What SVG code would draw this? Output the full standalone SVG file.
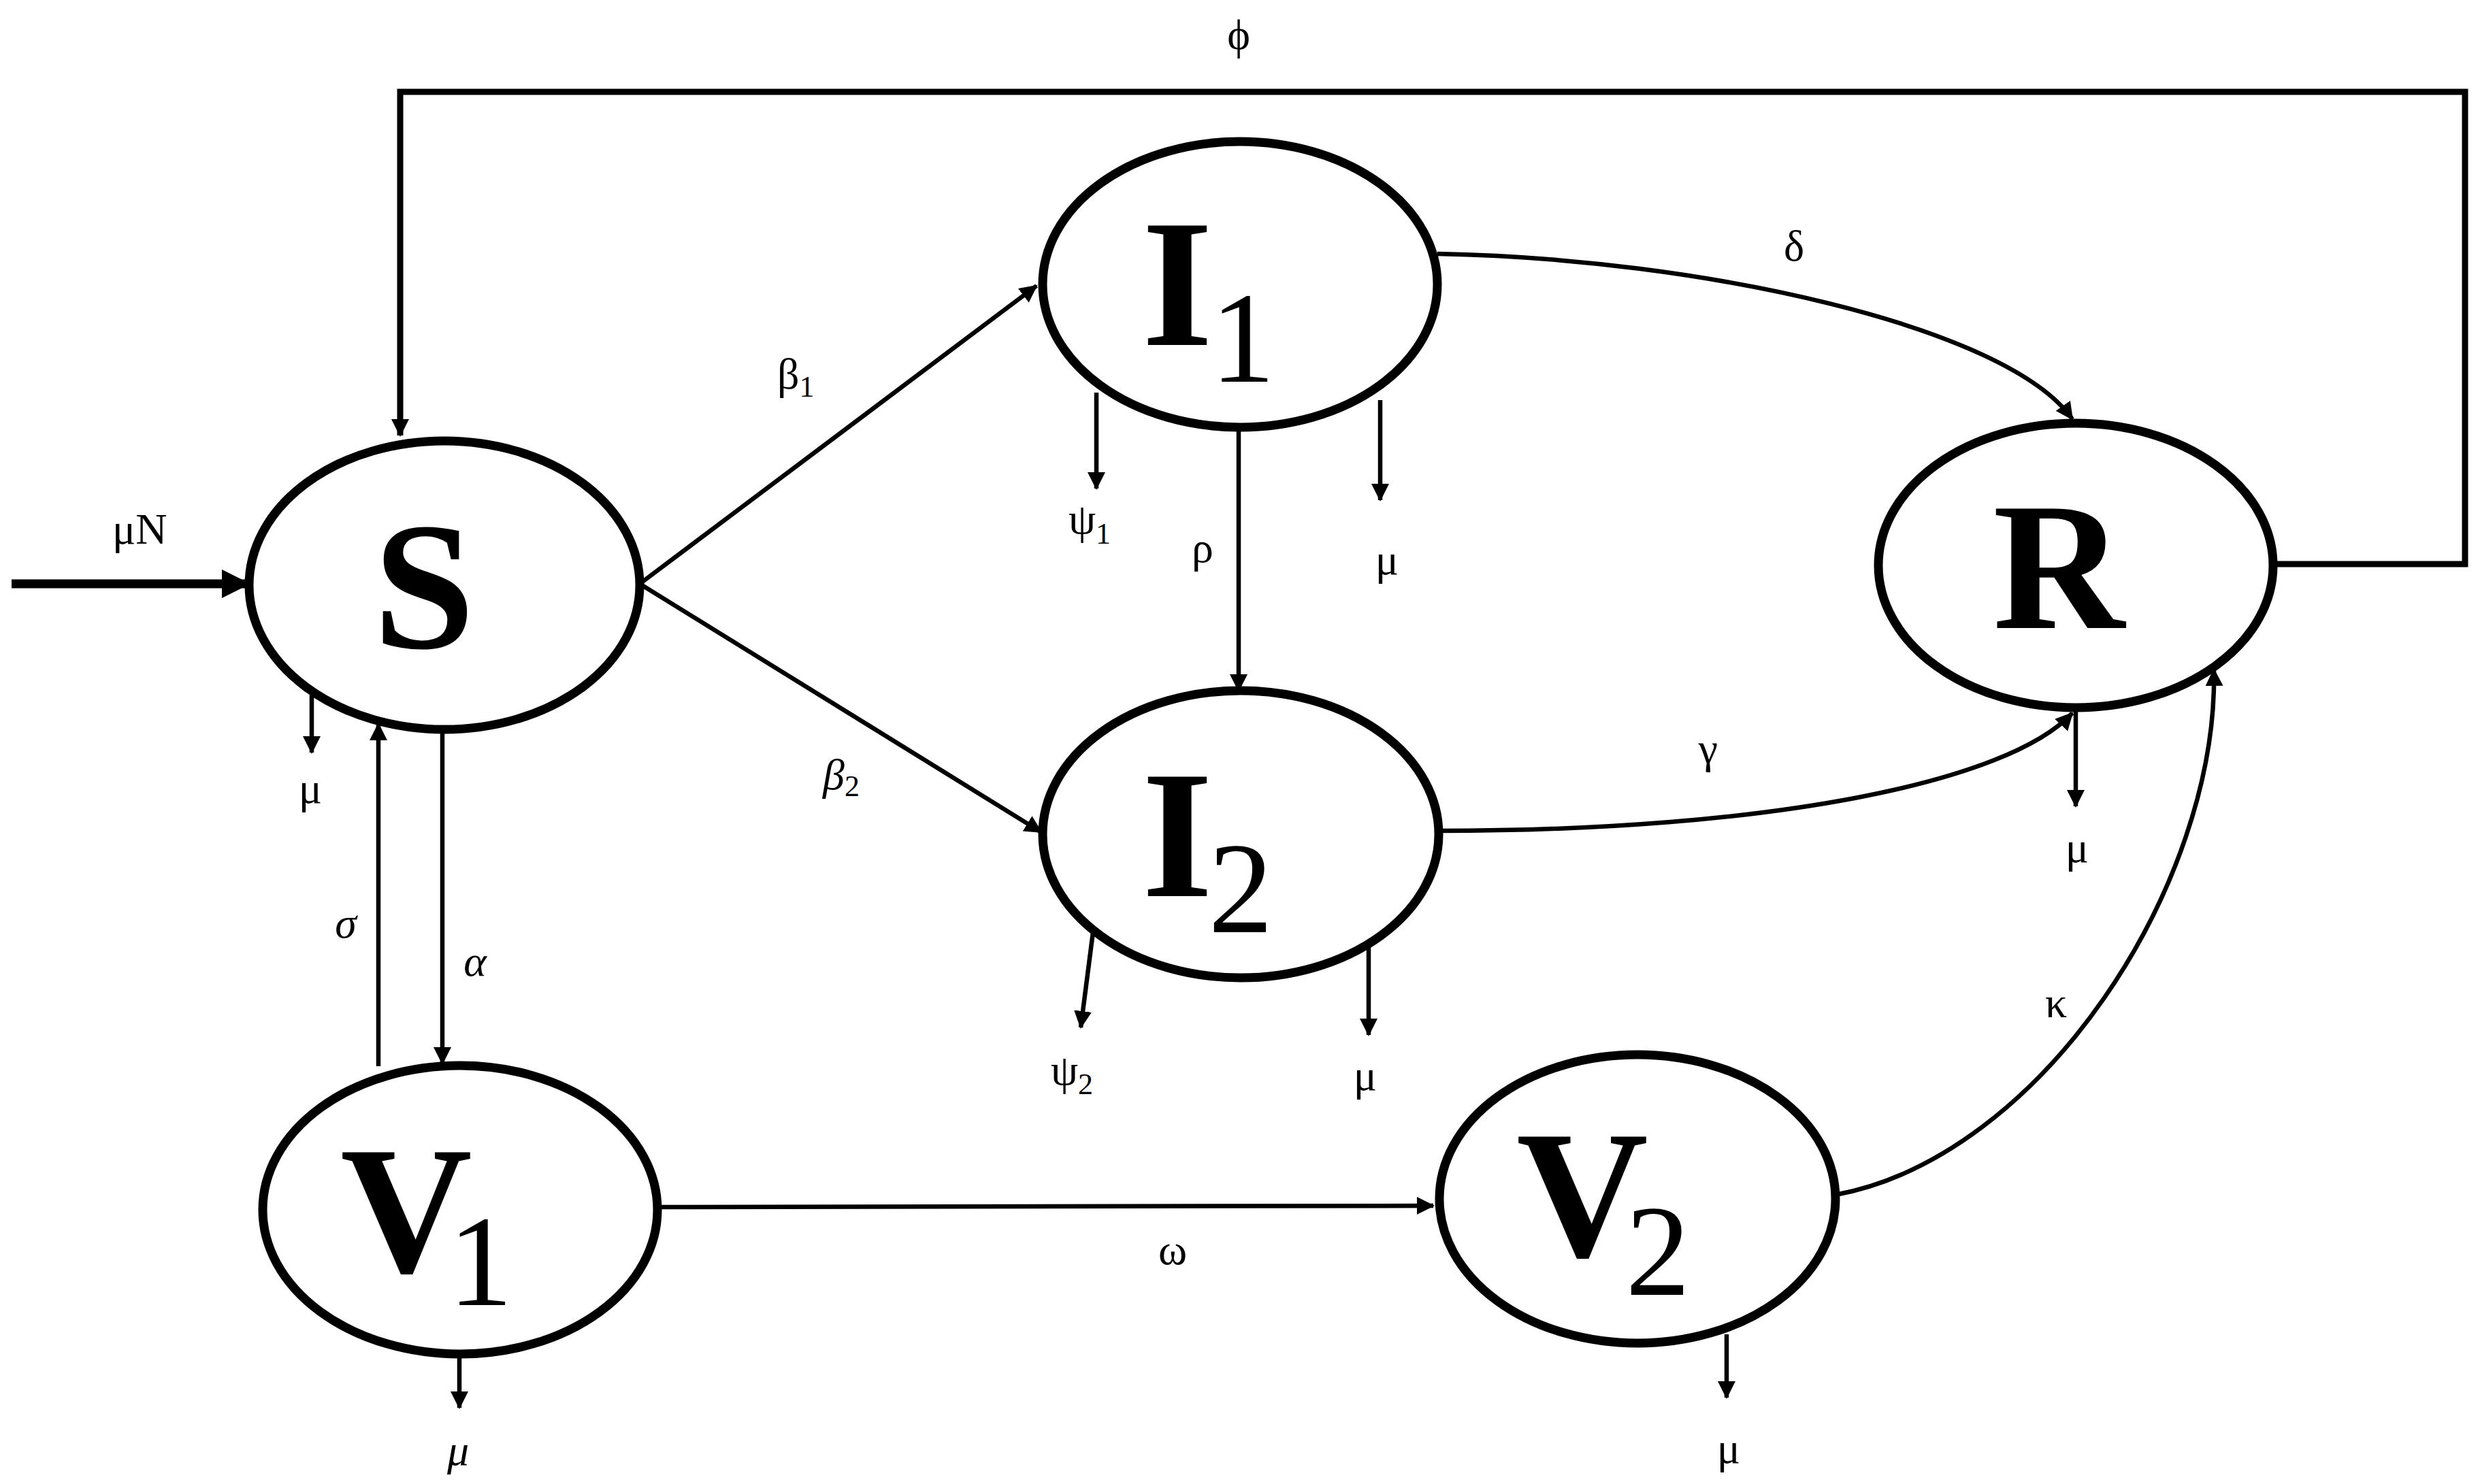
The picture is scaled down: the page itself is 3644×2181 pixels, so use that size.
<svg xmlns="http://www.w3.org/2000/svg" width="3644" height="2181" viewBox="0 0 3644 2181">
<style>
.node{fill:#fff;stroke:#000;stroke-width:13}
.big{font-family:"Liberation Serif",serif;font-weight:bold;font-size:268px;fill:#000}
.sub{font-weight:normal;font-size:190px}
.lbl{font-family:"Liberation Serif",serif;font-size:64px;fill:#000}
.it{font-style:italic}
.c{fill:none;stroke:#000;stroke-width:6.5}
.loop{fill:none;stroke:#000;stroke-width:9}
</style>
<defs>
<marker id="ah" markerUnits="userSpaceOnUse" markerWidth="30" markerHeight="28" refX="24" refY="13" orient="auto">
<path d="M0,0 L26,13 L0,26 z" fill="#000"/>
</marker>
<marker id="ahb" markerUnits="userSpaceOnUse" markerWidth="46" markerHeight="46" refX="36" refY="21" orient="auto">
<path d="M0,0 L42,21 L0,42 z" fill="#000"/>
</marker>
</defs>
<rect width="3644" height="2181" fill="#fff"/>
<g id="connectors">
<polyline class="loop" points="3339,829 3622,829 3622,135 588,135 588,640" marker-end="url(#ah)"/>
<line x1="17" y1="858" x2="362" y2="858" stroke="#000" stroke-width="13" marker-end="url(#ahb)"/>
<line class="c" x1="940" y1="858" x2="1523" y2="420" marker-end="url(#ah)"/>
<line class="c" x1="940" y1="858" x2="1530" y2="1223" marker-end="url(#ah)"/>
<path class="c" d="M2112,373 C2500,380 2950,480 3045,616" marker-end="url(#ah)"/>
<line class="c" x1="1820" y1="628" x2="1820" y2="1015" marker-end="url(#ah)"/>
<line class="c" x1="1611" y1="577" x2="1611" y2="718" marker-end="url(#ah)"/>
<line class="c" x1="2028" y1="588" x2="2028" y2="735" marker-end="url(#ah)"/>
<path class="c" d="M2115,1221 C2600,1221 2950,1150 3045,1048" marker-end="url(#ah)"/>
<line class="c" x1="3050" y1="1040" x2="3050" y2="1185" marker-end="url(#ah)"/>
<path class="c" d="M2697,1756 C3000,1700 3260,1300 3253,984" marker-end="url(#ah)"/>
<line class="c" x1="1606" y1="1370" x2="1588" y2="1510" marker-end="url(#ah)"/>
<line class="c" x1="2011" y1="1389" x2="2011" y2="1521" marker-end="url(#ah)"/>
<line class="c" x1="966" y1="1774" x2="2106" y2="1772" marker-end="url(#ah)"/>
<line class="c" x1="556" y1="1567" x2="556" y2="1064" marker-end="url(#ah)"/>
<line class="c" x1="650" y1="1068" x2="650" y2="1563" marker-end="url(#ah)"/>
<line class="c" x1="458" y1="1017" x2="458" y2="1106" marker-end="url(#ah)"/>
<line class="c" x1="675" y1="1990" x2="675" y2="2069" marker-end="url(#ah)"/>
<line class="c" x1="2537" y1="1961" x2="2537" y2="2054" marker-end="url(#ah)"/>
</g>
<g id="labels">
<text class="lbl" x="1820" y="72" text-anchor="middle">ϕ</text>
<text class="lbl" x="165" y="799">μN</text>
<text class="lbl" x="1142" y="571">β<tspan font-size="44" dy="12">1</tspan></text>
<text class="lbl" x="1570" y="784">ψ<tspan font-size="44" dy="15">1</tspan></text>
<text class="lbl" x="1767" y="826" text-anchor="middle">ρ</text>
<text class="lbl" x="2038" y="844" text-anchor="middle">μ</text>
<text class="lbl" x="2636" y="383" text-anchor="middle">δ</text>
<text class="lbl" x="3052" y="1267" text-anchor="middle">μ</text>
<text class="lbl" x="2510" y="1121" text-anchor="middle">γ</text>
<text class="lbl" x="1209" y="1160"><tspan class="it">β</tspan><tspan font-size="44" dy="10">2</tspan></text>
<text class="lbl" x="1544" y="1594">ψ<tspan font-size="44" dy="14">2</tspan></text>
<text class="lbl" x="2006" y="1602" text-anchor="middle">μ</text>
<text class="lbl" x="1723" y="1858" text-anchor="middle">ω</text>
<text class="lbl" x="3021" y="1495" text-anchor="middle">κ</text>
<text class="lbl it" x="508" y="1378" text-anchor="middle">σ</text>
<text class="lbl it" x="698" y="1434" text-anchor="middle">α</text>
<text class="lbl" x="456" y="1180" text-anchor="middle">μ</text>
<text class="lbl it" x="673" y="2153" text-anchor="middle">μ</text>
<text class="lbl" x="2540" y="2150" text-anchor="middle">μ</text>
</g>
<g id="node-S">
<ellipse class="node" cx="653" cy="860" rx="287" ry="212"/>
<text class="big" x="623" y="952" text-anchor="middle">S</text>
</g>
<g id="node-I1">
<ellipse class="node" cx="1822" cy="418" rx="290" ry="210"/>
<text class="big" text-anchor="middle"><tspan x="1730" y="507">I</tspan><tspan class="sub" x="1826" y="561">1</tspan></text>
</g>
<g id="node-I2">
<ellipse class="node" cx="1823" cy="1226" rx="291" ry="211"/>
<text class="big" text-anchor="middle"><tspan x="1730" y="1317">I</tspan><tspan class="sub" x="1823" y="1370">2</tspan></text>
</g>
<g id="node-R">
<ellipse class="node" cx="3050" cy="831" rx="290" ry="209"/>
<text class="big" x="3025" y="923" text-anchor="middle">R</text>
</g>
<g id="node-V1">
<ellipse class="node" cx="676" cy="1778" rx="290" ry="212"/>
<text class="big" text-anchor="middle"><tspan x="597" y="1869">V</tspan><tspan class="sub" x="706" y="1918">1</tspan></text>
</g>
<g id="node-V2">
<ellipse class="node" cx="2406" cy="1762" rx="291" ry="212"/>
<text class="big" text-anchor="middle"><tspan x="2325" y="1846">V</tspan><tspan class="sub" x="2436" y="1903">2</tspan></text>
</g>
</svg>
